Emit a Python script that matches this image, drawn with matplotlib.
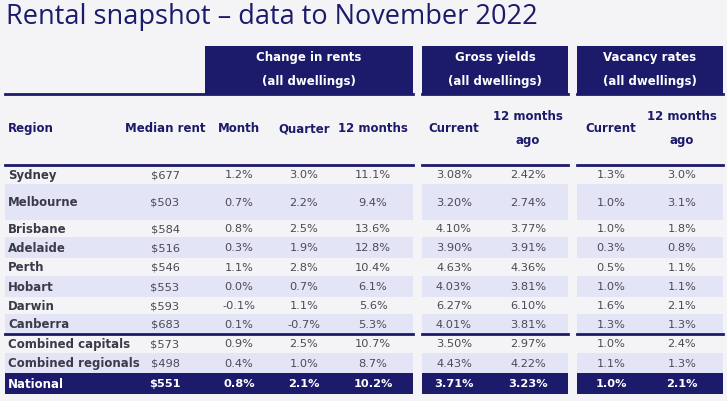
import matplotlib.pyplot as plt
from matplotlib.patches import Rectangle

regions = ['Sydney', 'Melbourne', 'Brisbane', 'Adelaide', 'Perth', 'Hobart', 'Darwin',
           'Canberra', 'Combined capitals', 'Combined regionals', 'National']
median_rent = ['$677', '$503', '$584', '$516', '$546', '$553', '$593', '$683', '$573', '$498', '$551']
month = ['1.2%', '0.7%', '0.8%', '0.3%', '1.1%', '0.0%', '-0.1%', '0.1%', '0.9%', '0.4%', '0.8%']
quarter = ['3.0%', '2.2%', '2.5%', '1.9%', '2.8%', '0.7%', '1.1%', '-0.7%', '2.5%', '1.0%', '2.1%']
twelve = ['11.1%', '9.4%', '13.6%', '12.8%', '10.4%', '6.1%', '5.6%', '5.3%', '10.7%', '8.7%', '10.2%']
yield_now = ['3.08%', '3.20%', '4.10%', '3.90%', '4.63%', '4.03%', '6.27%', '4.01%', '3.50%', '4.43%', '3.71%']
yield_ago = ['2.42%', '2.74%', '3.77%', '3.91%', '4.36%', '3.81%', '6.10%', '3.81%', '2.97%', '4.22%', '3.23%']
vac_now = ['1.3%', '1.0%', '1.0%', '0.3%', '0.5%', '1.0%', '1.6%', '1.3%', '1.0%', '1.1%', '1.0%']
vac_ago = ['3.0%', '3.1%', '1.8%', '0.8%', '1.1%', '1.1%', '2.1%', '1.3%', '2.4%', '1.3%', '2.1%']

navy = '#1c1a6b'
shade = '#e4e4f7'
row_edges = [166, 185, 221, 238, 259, 277, 298, 315, 335, 354, 374, 395]
groups = [(5, 413), (422, 568), (577, 723)]
col_x = [165, 239, 304, 373, 454, 528, 611, 682]
narrow = ['Liberation Sans Narrow', 'DejaVu Sans']

fig = plt.figure(figsize=(7.27, 4.02), dpi=100)
fig.patch.set_facecolor('#f4f4f6')
ax = fig.add_axes([0, 0, 1, 1])
ax.set_xlim(0, 727)
ax.set_ylim(402, 0)
ax.axis('off')

ax.text(6, 17, 'Rental snapshot \u2013 data to November 2022', color=navy, fontsize=19.5,
        va='center', ha='left', family='Open Sans')

# group header boxes
heads = [((205, 413), 'Change in rents'), ((422, 568), 'Gross yields'), ((577, 723), 'Vacancy rates')]
for (x0, x1), t in heads:
    ax.add_patch(Rectangle((x0, 47), x1 - x0, 48, color=navy, lw=0))
    ax.text((x0 + x1) / 2, 58, t, color='white', fontsize=8.5, weight='bold', ha='center', va='center')
    ax.text((x0 + x1) / 2, 81, '(all dwellings)', color='white', fontsize=8.5, weight='bold', ha='center', va='center')

for x0, x1 in groups:
    ax.plot([x0, x1], [95, 95], color=navy, lw=2)
    ax.plot([x0, x1], [166, 166], color=navy, lw=2)
    ax.plot([x0, x1], [335, 335], color=navy, lw=2)

hdr = dict(color=navy, fontsize=8.5, weight='bold', va='center')
ax.text(8, 129, 'Region', ha='left', **hdr)
for x, t in zip(col_x, ['Median rent', 'Month', 'Quarter', '12 months']):
    ax.text(x, 129, t, ha='center', **hdr)
ax.text(col_x[4], 129, 'Current', ha='center', **hdr)
ax.text(col_x[5], 129, '12 months\n\nago', ha='center', linespacing=0.9, **hdr)
ax.text(col_x[6], 129, 'Current', ha='center', **hdr)
ax.text(col_x[7], 129, '12 months\n\nago', ha='center', linespacing=0.9, **hdr)

cols = [median_rent, month, quarter, twelve, yield_now, yield_ago, vac_now, vac_ago]
n = len(regions)
for i in range(n):
    y0, y1 = row_edges[i], row_edges[i + 1]
    yc = (y0 + y1) / 2
    last = i == n - 1
    fill = navy if last else (shade if i in (1, 3, 5, 7, 9) else None)
    if fill:
        for x0, x1 in groups:
            top = y0 + (1 if i in (0, 8) else 0)
            ax.add_patch(Rectangle((x0, top), x1 - x0, y1 - top, color=fill, lw=0, zorder=0))
    tc = 'white' if last else '#4a4a55'
    ax.text(8, yc, regions[i], ha='left', va='center', fontsize=8.5, weight='bold',
            color='white' if last else '#3a3a48', family=narrow)
    for x, c in zip(col_x, cols):
        ax.text(x, yc, c[i], ha='center', va='center', fontsize=8.2, color=tc,
                weight='bold' if last else 'normal', family=narrow)

fig.savefig('out.png', dpi=100, facecolor=fig.get_facecolor())
